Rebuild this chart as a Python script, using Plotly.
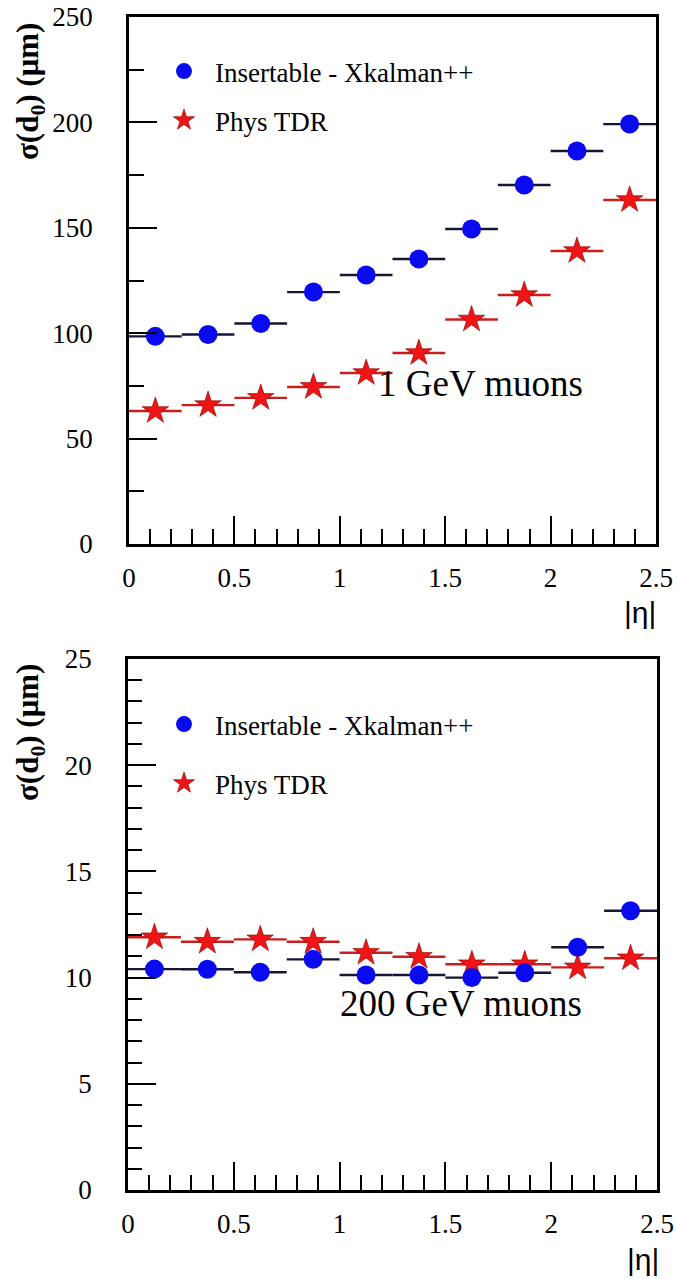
import plotly.graph_objects as go

# ---- data ----
eta_centers = [0.125, 0.375, 0.625, 0.875, 1.125, 1.375, 1.625, 1.875, 2.125, 2.375]
eta_halfwidth = [0.125] * 10

top_xkalman = [98.5, 99.4, 104.6, 119.5, 127.6, 135.2, 149.4, 170.3, 186.4, 199.2]
top_tdr = [63.1, 65.9, 69.3, 74.5, 81.1, 90.6, 106.5, 118.1, 139.0, 163.2]

bot_xkalman = [10.40, 10.39, 10.25, 10.86, 10.12, 10.12, 10.00, 10.23, 11.43, 13.15]
bot_tdr = [11.90, 11.69, 11.80, 11.69, 11.17, 10.98, 10.63, 10.63, 10.48, 10.91]

name_xk = "Insertable - Xkalman++"
name_tdr = "Phys TDR"
label_top = "1 GeV muons"
label_bot = "200 GeV muons"

W, H = 677, 1279
BLUE = "#0a0af0"
RED = "#f01414"
SERIF = "Liberation Serif"
SANS = "Liberation Sans"


def px(x):
    return x / W


def py(y):
    return 1 - y / H


fig = go.Figure()

for yaxis, xaxis, xk, tdr in [("y", "x", top_xkalman, top_tdr), ("y2", "x2", bot_xkalman, bot_tdr)]:
    fig.add_trace(go.Scatter(
        x=eta_centers, y=tdr, xaxis=xaxis, yaxis=yaxis, mode="markers",
        marker=dict(symbol="star", size=20, color=RED, line=dict(color="#8a0000", width=0.6)),
        error_x=dict(type="data", array=eta_halfwidth, visible=True, width=0,
                     thickness=2.4, color="#c81e1e"),
        showlegend=False))
    fig.add_trace(go.Scatter(
        x=eta_centers, y=xk, xaxis=xaxis, yaxis=yaxis, mode="markers",
        marker=dict(symbol="circle", size=19, color=BLUE, line=dict(width=0)),
        error_x=dict(type="data", array=eta_halfwidth, visible=True, width=0,
                     thickness=2.4, color="#151535"),
        showlegend=False))

# legend-only traces
for leg, yaxis, xaxis in [("legend", "y", "x"), ("legend2", "y2", "x2")]:
    fig.add_trace(go.Scatter(x=[None], y=[None], xaxis=xaxis, yaxis=yaxis, mode="markers",
                             name=name_xk, legend=leg, legendgroup=leg + "a",
                             marker=dict(symbol="circle", size=19, color=BLUE)))
    fig.add_trace(go.Scatter(x=[None], y=[None], xaxis=xaxis, yaxis=yaxis, mode="markers",
                             name=name_tdr, legend=leg, legendgroup=leg + "b",
                             marker=dict(symbol="star", size=19, color=RED,
                                         line=dict(color="#8a0000", width=0.6))))

axis_common = dict(
    showline=True, linecolor="black", linewidth=2.5, mirror=True,
    ticks="inside", tickcolor="black", tickwidth=2, ticklen=28,
    showgrid=False, zeroline=False, automargin=False,
    tickfont=dict(family=SERIF, size=27, color="black"),
)

fig.update_layout(
    width=W, height=H, margin=dict(l=0, r=0, t=0, b=0),
    paper_bgcolor="white", plot_bgcolor="white",
    xaxis=dict(domain=[px(129), px(656)], range=[0, 2.5], anchor="y",
               tickvals=[0, 0.5, 1, 1.5, 2, 2.5], ticktext=["0", "0.5", "1", "1.5", "2", "2.5"],
               minor=dict(dtick=0.1, ticklen=15, tickwidth=2, ticks="inside", tickcolor="black"),
               ticklabelstandoff=8, **axis_common),
    yaxis=dict(domain=[py(544), py(17)], range=[0, 250], anchor="x",
               tickvals=[0, 50, 100, 150, 200, 250],
               minor=dict(dtick=25, ticklen=15, tickwidth=2, ticks="inside", tickcolor="black"),
               ticklabelstandoff=28, **axis_common),
    xaxis2=dict(domain=[px(128), px(657)], range=[0, 2.5], anchor="y2",
                tickvals=[0, 0.5, 1, 1.5, 2, 2.5], ticktext=["0", "0.5", "1", "1.5", "2", "2.5"],
                minor=dict(dtick=0.1, ticklen=15, tickwidth=2, ticks="inside", tickcolor="black"),
                ticklabelstandoff=8, **axis_common),
    yaxis2=dict(domain=[py(1190), py(659)], range=[0, 25], anchor="x2",
                tickvals=[0, 5, 10, 15, 20, 25],
                minor=dict(dtick=1, ticklen=14, tickwidth=2, ticks="inside", tickcolor="black"),
                ticklabelstandoff=28, **axis_common),
    legend=dict(x=px(153), y=py(47), xanchor="left", yanchor="top", bgcolor="rgba(0,0,0,0)",
                font=dict(family=SERIF, size=27, color="black"), tracegroupgap=11,
                itemsizing="trace", itemwidth=52),
    legend2=dict(x=px(153), y=py(700), xanchor="left", yanchor="top", bgcolor="rgba(0,0,0,0)",
                 font=dict(family=SERIF, size=27, color="black"), tracegroupgap=21,
                 itemsizing="trace", itemwidth=52),
)

annots = [
    dict(text=label_top, x=px(481), y=py(383), font=dict(family=SERIF, size=37, color="black")),
    dict(text=label_bot, x=px(461), y=py(1003), font=dict(family=SERIF, size=37, color="black")),
    dict(text="|η|", x=px(640), y=py(612), font=dict(family=SANS, size=30, color="black")),
    dict(text="|η|", x=px(643), y=py(1259), font=dict(family=SANS, size=30, color="black")),
    dict(text="<b>σ(d<sub>0</sub>) (μm)</b>", x=px(30), y=py(92), textangle=-90,
         font=dict(family=SERIF, size=31, color="black")),
    dict(text="<b>σ(d<sub>0</sub>) (μm)</b>", x=px(30), y=py(733), textangle=-90,
         font=dict(family=SERIF, size=31, color="black")),
]
for a in annots:
    fig.add_annotation(xref="paper", yref="paper", showarrow=False,
                       xanchor="center", yanchor="middle", **a)

fig.write_html("out.html")
